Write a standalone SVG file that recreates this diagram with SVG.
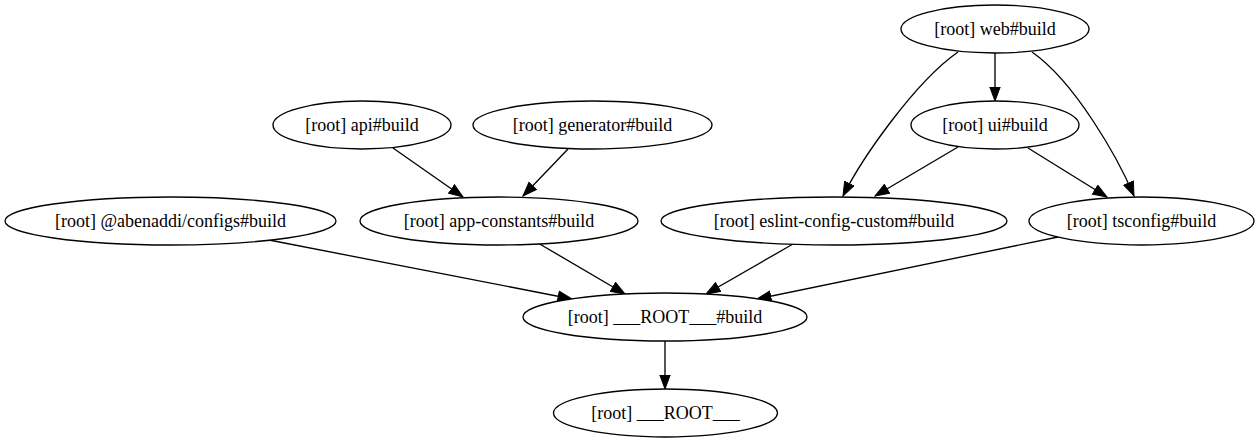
<svg xmlns="http://www.w3.org/2000/svg" width="1259" height="443" viewBox="0 0 1259 443">
<style>
.node ellipse{fill:#ffffff;stroke:#000000;stroke-width:1.33}
.node text{font-family:"Liberation Serif","Times New Roman",serif;font-size:18px;fill:#000000;text-anchor:middle}
.edge{fill:none;stroke:#000000;stroke-width:1.33;marker-end:url(#arrow)}
</style>
<defs>
<marker id="arrow" markerUnits="userSpaceOnUse" markerWidth="18" markerHeight="14" refX="14.5" refY="6" orient="auto">
<path d="M0.5,0.8 L14.5,6 L0.5,11.2 Z" fill="#000000" stroke="#000000" stroke-width="1"/>
</marker>
</defs>
<rect x="0" y="0" width="1259" height="443" fill="#ffffff"/>
<g id="connectors">
<path class="edge" d="M995,53 L995,101"/>
<path class="edge" d="M958,52 C915,82 862,158 843,196"/>
<path class="edge" d="M1032,52 C1075,82 1118,158 1134,196"/>
<path class="edge" d="M958,147 L875,196"/>
<path class="edge" d="M1028,148 L1107,197"/>
<path class="edge" d="M393,148 L463,197"/>
<path class="edge" d="M568,149 L523,196"/>
<path class="edge" d="M269,240 L572,299"/>
<path class="edge" d="M538,243 L625,294"/>
<path class="edge" d="M793,244 L706,294"/>
<path class="edge" d="M1058,237 L757,299"/>
<path class="edge" d="M665,341 L665,389"/>
</g>
<g id="node-web" class="node"><ellipse cx="995" cy="29" rx="94" ry="24"/><text x="995" y="35">[root] web#build</text></g>
<g id="node-ui" class="node"><ellipse cx="995" cy="125" rx="84" ry="24"/><text x="995" y="131">[root] ui#build</text></g>
<g id="node-api" class="node"><ellipse cx="362" cy="125" rx="89" ry="24"/><text x="362" y="131">[root] api#build</text></g>
<g id="node-generator" class="node"><ellipse cx="592.5" cy="125" rx="119.5" ry="24"/><text x="592.5" y="131">[root] generator#build</text></g>
<g id="node-configs" class="node"><ellipse cx="170.5" cy="221" rx="165.5" ry="24"/><text x="170.5" y="227">[root] @abenaddi/configs#build</text></g>
<g id="node-app-constants" class="node"><ellipse cx="499" cy="221" rx="139" ry="24"/><text x="499" y="227">[root] app-constants#build</text></g>
<g id="node-eslint" class="node"><ellipse cx="834" cy="221" rx="173" ry="24"/><text x="834" y="227">[root] eslint-config-custom#build</text></g>
<g id="node-tsconfig" class="node"><ellipse cx="1141.5" cy="221" rx="112.5" ry="24"/><text x="1141.5" y="227">[root] tsconfig#build</text></g>
<g id="node-root-build" class="node"><ellipse cx="665" cy="317" rx="142" ry="24"/><text x="665" y="323">[root] ___ROOT___#build</text></g>
<g id="node-root" class="node"><ellipse cx="665.5" cy="413" rx="112" ry="24"/><text x="665.5" y="419">[root] ___ROOT___</text></g>
</svg>
